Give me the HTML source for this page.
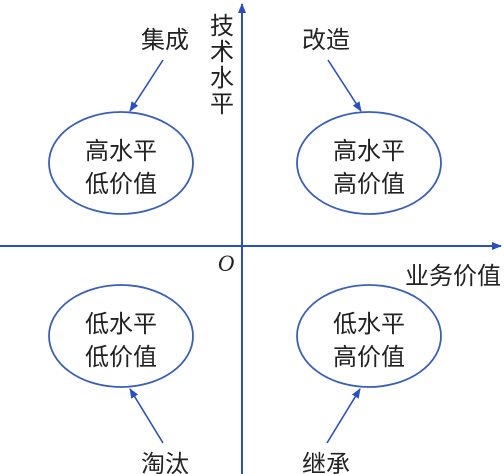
<!DOCTYPE html>
<html><head><meta charset="utf-8"><style>
html,body{margin:0;padding:0;background:#fff;width:504px;height:474px;overflow:hidden}
svg{display:block}
text{font-family:"Liberation Sans","Noto Sans CJK SC",sans-serif;fill:#222}
</style></head><body>
<svg width="504" height="474" viewBox="0 0 504 474" xmlns="http://www.w3.org/2000/svg">
<defs><marker id="a" markerWidth="10" markerHeight="10" refX="9" refY="5" orient="auto" markerUnits="userSpaceOnUse"><path d="M0,1 L10,5 L0,9 Z" fill="#2a4fc0"/></marker></defs>
<g stroke="#2a4fc0" stroke-width="2" fill="none">
<line x1="242" y1="474" x2="242" y2="4" marker-end="url(#a)"/>
<line x1="0" y1="246" x2="501" y2="246" marker-end="url(#a)"/>
</g>
<g stroke="#3a5fb8" stroke-width="1.8" fill="none">
<ellipse cx="121" cy="163" rx="72" ry="51"/>
<ellipse cx="369" cy="163" rx="72" ry="51"/>
<ellipse cx="121" cy="336" rx="72" ry="51"/>
<ellipse cx="369" cy="336" rx="72" ry="51"/>
</g>
<g stroke="#2a4fc0" stroke-width="1.6" fill="none">
<line x1="163" y1="60" x2="130" y2="111" marker-end="url(#a)"/>
<line x1="328" y1="60" x2="361" y2="111" marker-end="url(#a)"/>
<line x1="163" y1="443" x2="130" y2="389" marker-end="url(#a)"/>
<line x1="327" y1="443" x2="360" y2="389" marker-end="url(#a)"/>
</g>
<g font-size="24" text-anchor="middle">
<text x="121" y="159">高水平</text><text x="121" y="192">低价值</text>
<text x="369" y="159">高水平</text><text x="369" y="192">高价值</text>
<text x="121" y="332">低水平</text><text x="121" y="365">低价值</text>
<text x="369" y="332">低水平</text><text x="369" y="365">高价值</text>
<text x="165" y="48">集成</text>
<text x="326" y="48">改造</text>
<text x="165" y="472">淘汰</text>
<text x="326" y="472">继承</text>
<text x="453" y="284">业务价值</text>
<text x="222" y="34">技</text><text x="222" y="60">术</text><text x="222" y="86">水</text><text x="222" y="112">平</text>
</g>
<text x="226" y="271" font-size="23" font-style="italic" text-anchor="middle" style="font-family:'Liberation Serif',serif">O</text>
</svg>
</body></html>
